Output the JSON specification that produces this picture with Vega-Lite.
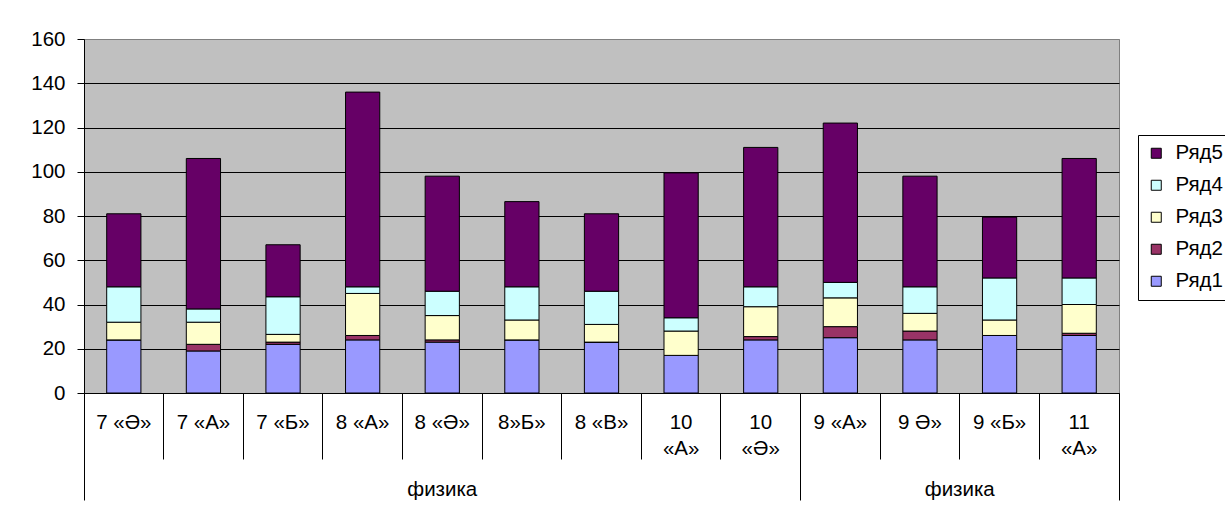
{
  "$schema": "https://vega.github.io/schema/vega-lite/v6.json",
  "width": 1035,
  "height": 354,
  "autosize": "none",
  "padding": {"left": 84, "top": 39, "right": 106, "bottom": 120},
  "background": "white",
  "config": {
    "font": "Liberation Sans",
    "view": {"fill": "#C0C0C0", "stroke": "#808080", "strokeWidth": 1}
  },
  "data": {
    "values": [
      {"cls": "7 «Ә»", "s": "Ряд1", "k": 1, "v": 24},
      {"cls": "7 «Ә»", "s": "Ряд2", "k": 2, "v": 0},
      {"cls": "7 «Ә»", "s": "Ряд3", "k": 3, "v": 8},
      {"cls": "7 «Ә»", "s": "Ряд4", "k": 4, "v": 16},
      {"cls": "7 «Ә»", "s": "Ряд5", "k": 5, "v": 33},
      {"cls": "7 «А»", "s": "Ряд1", "k": 1, "v": 19},
      {"cls": "7 «А»", "s": "Ряд2", "k": 2, "v": 3},
      {"cls": "7 «А»", "s": "Ряд3", "k": 3, "v": 10},
      {"cls": "7 «А»", "s": "Ряд4", "k": 4, "v": 6},
      {"cls": "7 «А»", "s": "Ряд5", "k": 5, "v": 68},
      {"cls": "7 «Б»", "s": "Ряд1", "k": 1, "v": 22},
      {"cls": "7 «Б»", "s": "Ряд2", "k": 2, "v": 1},
      {"cls": "7 «Б»", "s": "Ряд3", "k": 3, "v": 3.5},
      {"cls": "7 «Б»", "s": "Ряд4", "k": 4, "v": 17},
      {"cls": "7 «Б»", "s": "Ряд5", "k": 5, "v": 23.5},
      {"cls": "8 «А»", "s": "Ряд1", "k": 1, "v": 24},
      {"cls": "8 «А»", "s": "Ряд2", "k": 2, "v": 2},
      {"cls": "8 «А»", "s": "Ряд3", "k": 3, "v": 19},
      {"cls": "8 «А»", "s": "Ряд4", "k": 4, "v": 3},
      {"cls": "8 «А»", "s": "Ряд5", "k": 5, "v": 88},
      {"cls": "8 «Ә»", "s": "Ряд1", "k": 1, "v": 23},
      {"cls": "8 «Ә»", "s": "Ряд2", "k": 2, "v": 1},
      {"cls": "8 «Ә»", "s": "Ряд3", "k": 3, "v": 11},
      {"cls": "8 «Ә»", "s": "Ряд4", "k": 4, "v": 11},
      {"cls": "8 «Ә»", "s": "Ряд5", "k": 5, "v": 52},
      {"cls": "8»Б»", "s": "Ряд1", "k": 1, "v": 24},
      {"cls": "8»Б»", "s": "Ряд2", "k": 2, "v": 0},
      {"cls": "8»Б»", "s": "Ряд3", "k": 3, "v": 9},
      {"cls": "8»Б»", "s": "Ряд4", "k": 4, "v": 15},
      {"cls": "8»Б»", "s": "Ряд5", "k": 5, "v": 38.5},
      {"cls": "8 «В»", "s": "Ряд1", "k": 1, "v": 23},
      {"cls": "8 «В»", "s": "Ряд2", "k": 2, "v": 0},
      {"cls": "8 «В»", "s": "Ряд3", "k": 3, "v": 8},
      {"cls": "8 «В»", "s": "Ряд4", "k": 4, "v": 15},
      {"cls": "8 «В»", "s": "Ряд5", "k": 5, "v": 35},
      {"cls": "10 «А»", "s": "Ряд1", "k": 1, "v": 17},
      {"cls": "10 «А»", "s": "Ряд2", "k": 2, "v": 0},
      {"cls": "10 «А»", "s": "Ряд3", "k": 3, "v": 11},
      {"cls": "10 «А»", "s": "Ряд4", "k": 4, "v": 6},
      {"cls": "10 «А»", "s": "Ряд5", "k": 5, "v": 65.5},
      {"cls": "10 «Ә»", "s": "Ряд1", "k": 1, "v": 24},
      {"cls": "10 «Ә»", "s": "Ряд2", "k": 2, "v": 1.5},
      {"cls": "10 «Ә»", "s": "Ряд3", "k": 3, "v": 13.5},
      {"cls": "10 «Ә»", "s": "Ряд4", "k": 4, "v": 9},
      {"cls": "10 «Ә»", "s": "Ряд5", "k": 5, "v": 63},
      {"cls": "9 «А»", "s": "Ряд1", "k": 1, "v": 25},
      {"cls": "9 «А»", "s": "Ряд2", "k": 2, "v": 5},
      {"cls": "9 «А»", "s": "Ряд3", "k": 3, "v": 13},
      {"cls": "9 «А»", "s": "Ряд4", "k": 4, "v": 7},
      {"cls": "9 «А»", "s": "Ряд5", "k": 5, "v": 72},
      {"cls": "9 Ә»", "s": "Ряд1", "k": 1, "v": 24},
      {"cls": "9 Ә»", "s": "Ряд2", "k": 2, "v": 4},
      {"cls": "9 Ә»", "s": "Ряд3", "k": 3, "v": 8},
      {"cls": "9 Ә»", "s": "Ряд4", "k": 4, "v": 12},
      {"cls": "9 Ә»", "s": "Ряд5", "k": 5, "v": 50},
      {"cls": "9 «Б»", "s": "Ряд1", "k": 1, "v": 26},
      {"cls": "9 «Б»", "s": "Ряд2", "k": 2, "v": 0},
      {"cls": "9 «Б»", "s": "Ряд3", "k": 3, "v": 7},
      {"cls": "9 «Б»", "s": "Ряд4", "k": 4, "v": 19},
      {"cls": "9 «Б»", "s": "Ряд5", "k": 5, "v": 27.5},
      {"cls": "11 «А»", "s": "Ряд1", "k": 1, "v": 26},
      {"cls": "11 «А»", "s": "Ряд2", "k": 2, "v": 1},
      {"cls": "11 «А»", "s": "Ряд3", "k": 3, "v": 13},
      {"cls": "11 «А»", "s": "Ряд4", "k": 4, "v": 12},
      {"cls": "11 «А»", "s": "Ряд5", "k": 5, "v": 54}
    ]
  },
  "resolve": {"axis": {"x": "independent"}},
  "layer": [
    {
      "mark": {"type": "bar", "stroke": "black", "strokeWidth": 1, "width": {"band": 0.43}},
      "encoding": {
        "x": {
          "field": "cls", "type": "nominal", "sort": null,
          "scale": {"type": "band", "paddingInner": 0, "paddingOuter": 0},
          "axis": {
            "orient": "bottom", "title": null, "bandPosition": 0,
            "tickSize": 66, "tickColor": "black", "tickWidth": 1,
            "domainColor": "black", "domainWidth": 1,
            "labelAngle": 0, "labelOverlap": false, "labelBaseline": "top",
            "labelPadding": -47, "labelFontSize": 20.5, "labelColor": "black",
            "labelLineHeight": 26, "labelFont": "Liberation Sans",
            "labelExpr": "indexof(['10 «А»','10 «Ә»','11 «А»'], datum.label) >= 0 ? split(datum.label, ' ') : datum.label",
            "grid": false
          }
        },
        "y": {
          "field": "v", "type": "quantitative", "stack": "zero",
          "scale": {"domain": [0, 160], "nice": false},
          "axis": {
            "title": null, "values": [0, 20, 40, 60, 80, 100, 120, 140, 160],
            "tickSize": 7, "tickColor": "black", "domainColor": "black",
            "labelPadding": 12, "labelFontSize": 20.5, "labelColor": "black",
            "labelFont": "Liberation Sans",
            "grid": true,
            "gridColor": {"condition": {"test": "datum.value === 160", "value": "#808080"}, "value": "black"},
            "gridWidth": 1, "gridOpacity": 1
          }
        },
        "color": {
          "field": "s", "type": "nominal",
          "scale": {
            "domain": ["Ряд5", "Ряд4", "Ряд3", "Ряд2", "Ряд1"],
            "range": ["#660066", "#CCFFFF", "#FFFFCC", "#993366", "#9999FF"]
          },
          "legend": {
            "title": null, "orient": "none", "legendX": 1054, "legendY": 96,
            "symbolType": "square", "symbolSize": 100, "symbolStrokeColor": "black",
            "symbolStrokeWidth": 1, "symbolOpacity": 1,
            "labelFontSize": 20.5, "labelFont": "Liberation Sans", "labelColor": "black",
            "labelOffset": 9, "rowPadding": 11, "padding": 8,
            "strokeColor": "black", "fillColor": "white"
          }
        },
        "order": {"field": "k", "type": "quantitative"}
      }
    },
    {
      "mark": {"type": "point", "opacity": 0},
      "encoding": {
        "x": {
          "field": "cls", "type": "nominal", "sort": null,
          "axis": {
            "orient": "bottom", "title": null, "bandPosition": 0, "domain": false,
            "tickSize": 107, "tickColor": "black", "tickWidth": 1,
            "tickOpacity": {"condition": {"test": "datum.value === '7 «Ә»' || datum.value === '9 «А»'", "value": 1}, "value": 0},
            "labelAngle": 0, "labelOverlap": false, "labelBaseline": "middle",
            "labelPadding": -11, "labelFontSize": 20.5, "labelColor": "black",
            "labelFont": "Liberation Sans",
            "labelOffset": {"condition": {"test": "datum.value === '9 «Б»'", "value": -39.8}, "value": 0},
            "labelExpr": "datum.value === '8 «Ә»' || datum.value === '9 «Б»' ? 'физика' : ''",
            "grid": false
          }
        }
      }
    },
    {
      "mark": {"type": "point", "opacity": 0},
      "encoding": {
        "x": {
          "field": "cls", "type": "nominal", "sort": null,
          "axis": {
            "orient": "bottom", "title": null, "bandPosition": 1, "domain": false,
            "tickSize": 107, "tickColor": "black", "tickWidth": 1,
            "tickOpacity": {"condition": {"test": "datum.value === '11 «А»'", "value": 1}, "value": 0},
            "labels": false, "grid": false
          }
        }
      }
    }
  ]
}
